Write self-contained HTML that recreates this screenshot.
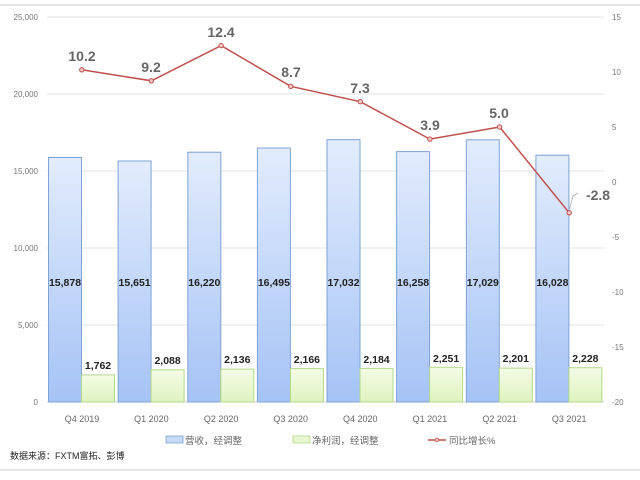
<!DOCTYPE html>
<html><head><meta charset="utf-8"><style>
html,body{margin:0;padding:0;background:#fff;}
svg{display:block;font-family:"Liberation Sans","Noto Sans CJK SC",sans-serif;}
</style></head><body>
<svg width="640" height="480" viewBox="0 0 640 480">
<defs>
<linearGradient id="gb" x1="0" y1="0" x2="0" y2="1"><stop offset="0" stop-color="#e2ecfc"/><stop offset="1" stop-color="#a5c3f5"/></linearGradient>
<linearGradient id="gg" x1="0" y1="0" x2="0" y2="1"><stop offset="0" stop-color="#f4fbe6"/><stop offset="1" stop-color="#dff3c0"/></linearGradient>
</defs>
<line x1="0" y1="5" x2="640" y2="5" stroke="#e6e6e6" stroke-width="2"/>
<line x1="0" y1="470" x2="640" y2="470" stroke="#e6e6e6" stroke-width="2"/>
<g stroke="#e0e0e0" stroke-width="1">
<line x1="47" y1="17" x2="604" y2="17"/><line x1="47" y1="94" x2="604" y2="94"/>
<line x1="47" y1="171" x2="604" y2="171"/><line x1="47" y1="248" x2="604" y2="248"/>
<line x1="47" y1="325" x2="604" y2="325"/><line x1="47" y1="402" x2="604" y2="402" stroke="#d0d0d0"/>
</g>
<g font-size="8" fill="#777" text-anchor="end">
<text x="38" y="20">25,000</text><text x="38" y="97">20,000</text><text x="38" y="174">15,000</text>
<text x="38" y="251">10,000</text><text x="38" y="328">5,000</text><text x="38" y="405">0</text>
</g>
<g font-size="8" fill="#777" text-anchor="start">
<text x="612" y="20">15</text><text x="612" y="75">10</text><text x="612" y="130">5</text><text x="612" y="185">0</text>
<text x="612" y="240">-5</text><text x="612" y="295">-10</text><text x="612" y="350">-15</text><text x="612" y="405">-20</text>
</g>
<g stroke="#7fa3d6" stroke-width="1" fill="url(#gb)">
<rect x="48.5" y="157.5" width="33" height="244.5"/>
<rect x="118.1" y="161" width="33" height="241"/>
<rect x="187.8" y="152.2" width="33" height="249.8"/>
<rect x="257.4" y="148" width="33" height="254"/>
<rect x="327" y="139.7" width="33" height="262.3"/>
<rect x="396.6" y="151.6" width="33" height="250.4"/>
<rect x="466.3" y="139.8" width="33" height="262.2"/>
<rect x="535.9" y="155.2" width="33" height="246.8"/>
</g>
<g stroke="#b5d98a" stroke-width="1" fill="url(#gg)">
<rect x="81.5" y="374.9" width="33" height="27.1"/>
<rect x="151.1" y="369.8" width="33" height="32.2"/>
<rect x="220.8" y="369.1" width="33" height="32.9"/>
<rect x="290.4" y="368.6" width="33" height="33.4"/>
<rect x="360" y="368.4" width="33" height="33.6"/>
<rect x="429.6" y="367.3" width="33" height="34.7"/>
<rect x="499.3" y="368.1" width="33" height="33.9"/>
<rect x="568.9" y="367.7" width="33" height="34.3"/>
</g>
<g font-size="10.5" font-weight="bold" fill="#222" text-anchor="middle">
<text x="65" y="286">15,878</text><text x="134.6" y="286">15,651</text><text x="204.3" y="286">16,220</text>
<text x="273.9" y="286">16,495</text><text x="343.5" y="286">17,032</text><text x="413.1" y="286">16,258</text>
<text x="482.8" y="286">17,029</text><text x="552.4" y="286">16,028</text>
<text x="98" y="369">1,762</text><text x="167.6" y="364">2,088</text><text x="237.3" y="363">2,136</text>
<text x="306.9" y="363">2,166</text><text x="376.5" y="363">2,184</text><text x="446.1" y="362">2,251</text>
<text x="515.8" y="362">2,201</text><text x="585.4" y="362">2,228</text>
</g>
<polyline fill="none" stroke="#c0504d" stroke-width="1.5" points="81.8,69.8 151.4,80.8 221.1,45.6 290.7,86.3 360.3,101.7 429.9,139.1 499.6,127 569.2,212.8"/>
<g fill="#f4c7c6" stroke="#c0504d" stroke-width="1">
<circle cx="81.8" cy="69.8" r="2.2"/><circle cx="151.4" cy="80.8" r="2.2"/><circle cx="221.1" cy="45.6" r="2.2"/>
<circle cx="290.7" cy="86.3" r="2.2"/><circle cx="360.3" cy="101.7" r="2.2"/><circle cx="429.9" cy="139.1" r="2.2"/>
<circle cx="499.6" cy="127" r="2.2"/><circle cx="569.2" cy="212.8" r="2.2"/>
</g>
<g font-size="14" font-weight="bold" fill="#666" text-anchor="middle">
<text x="82" y="61">10.2</text><text x="151" y="72">9.2</text><text x="221" y="37">12.4</text>
<text x="291" y="77">8.7</text><text x="360" y="93">7.3</text><text x="430" y="130">3.9</text>
<text x="499" y="118">5.0</text><text x="598" y="200">-2.8</text>
</g>
<path d="M569.5,209 L573,196 L578,193" fill="none" stroke="#aaa" stroke-width="0.8"/>
<g font-size="9" fill="#666" text-anchor="middle">
<text x="82" y="422">Q4 2019</text><text x="151.4" y="422">Q1 2020</text><text x="221.1" y="422">Q2 2020</text>
<text x="290.7" y="422">Q3 2020</text><text x="360.3" y="422">Q4 2020</text><text x="429.9" y="422">Q1 2021</text>
<text x="499.6" y="422">Q2 2021</text><text x="569.2" y="422">Q3 2021</text>
</g>
<rect x="166" y="436" width="17" height="7" fill="#c6d9f7" stroke="#7fa3d6" stroke-width="0.8"/>
<text x="185" y="444" font-size="9.5" fill="#666">营收，经调整</text>
<rect x="293" y="436" width="17" height="7" fill="#e8f6d2" stroke="#b5d98a" stroke-width="0.8"/>
<text x="312" y="444" font-size="9.5" fill="#666">净利润，经调整</text>
<line x1="428" y1="440" x2="446" y2="440" stroke="#c0504d" stroke-width="1.5"/>
<circle cx="437" cy="440" r="1.8" fill="#f4c7c6" stroke="#c0504d" stroke-width="0.8"/>
<text x="449" y="444" font-size="9.5" fill="#666">同比增长%</text>
<text x="10" y="459" font-size="9" fill="#222">数据来源：FXTM富拓、彭博</text>
</svg>
</body></html>
